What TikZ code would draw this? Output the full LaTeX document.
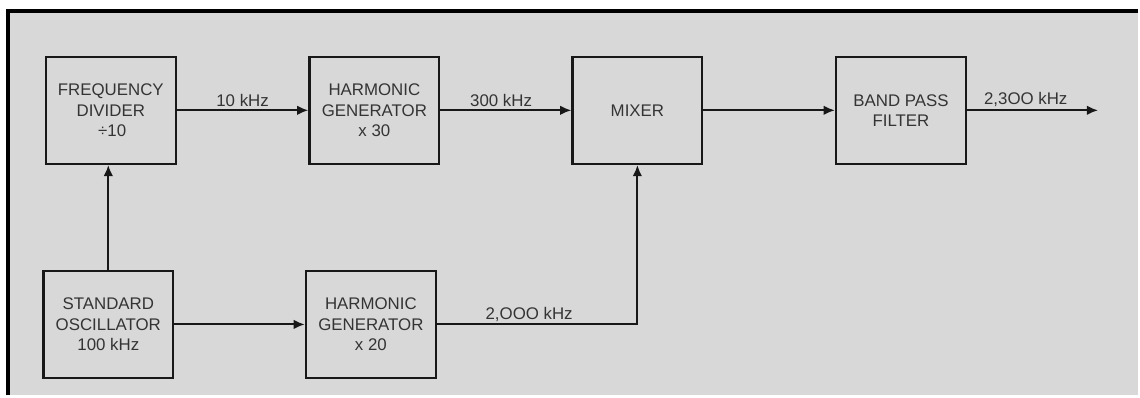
\documentclass[tikz,border=0pt]{standalone}
\usepackage{fontspec}
\setmainfont{Liberation Sans}
\usetikzlibrary{arrows.meta,positioning}
\definecolor{synthbg}{RGB}{216,216,216}
\definecolor{synthink}{RGB}{52,52,52}
\definecolor{synthline}{RGB}{24,24,24}

\begin{document}
\begin{tikzpicture}[
  x=0.025cm, y=-0.025cm,
  font=\fontsize{12}{14.5}\selectfont,
  block/.style={draw=synthline, line width=1.6pt, text=synthink, align=center,
    minimum width=3.25cm, minimum height=2.68cm, inner sep=0pt},
  signal/.style={-{Latex[length=2.8mm,width=2.4mm]}, line width=1.5pt, draw=synthline},
  freq/.style={text=synthink, inner sep=1.5pt, anchor=south}
]
\fill[white] (0,0) rectangle (1140,396);
\fill[synthbg] (8,11) rectangle (1140,396);
\draw[black, line width=2.8pt] (8,396) -- (8,11) -- (1140,11);

\node[block] (divider) at (111,110.5) {FREQUENCY\\DIVIDER\\\,÷10};
\node[block] (harmA) at (375,110.5) {HARMONIC\\GENERATOR\\x 30};
\node[block] (mixer) at (638.5,110.5) {MIXER};
\node[block] (bandpass) at (902.5,110.5) {BAND PASS\\FILTER};
\node[block] (osc) at (108.5,325) {STANDARD\\OSCILLATOR\\100 kHz};
\node[block] (harmB) at (371.5,325) {HARMONIC\\GENERATOR\\x 20};
\coordinate (out) at (1100,110.5);

\draw[signal] (divider) -- node[freq] {10 kHz} (harmA);
\draw[signal] (harmA) -- node[freq, xshift=-0.12cm] {300 kHz} (mixer);
\draw[signal] (mixer) -- (bandpass);
\draw[signal] (bandpass) -- node[freq, xshift=-0.17cm] {2,3OO kHz} (out);
\draw[signal] (osc.north) -- (osc.north |- divider.south);
\draw[signal] (osc) -- (harmB);
\draw[signal] (harmB.east) -| node[freq, pos=0.23] {2,OOO kHz} (mixer.south);
\end{tikzpicture}
\end{document}
